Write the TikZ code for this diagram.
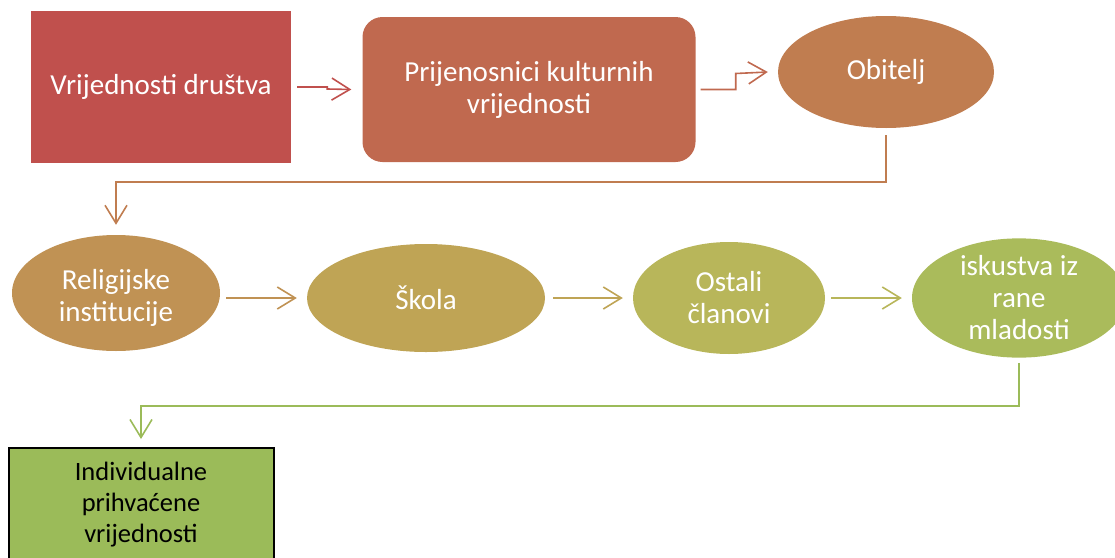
\documentclass[tikz,border=0pt]{standalone}
\usepackage{fontspec}
\setmainfont{Carlito}
\usetikzlibrary{arrows.meta,shapes.geometric,calc}
\definecolor{cA}{HTML}{C0504D}
\definecolor{cB}{HTML}{C0694F}
\definecolor{cC}{HTML}{C07D50}
\definecolor{cD}{HTML}{C09254}
\definecolor{cE}{HTML}{BFA455}
\definecolor{cF}{HTML}{B8B65A}
\definecolor{cG}{HTML}{AABB5B}
\definecolor{cH}{HTML}{9BBB59}
\tikzset{
  lbl/.style={text=white,font=\fontsize{29}{32}\selectfont,align=center,inner sep=0pt},
  ell/.style={ellipse,lbl},
  conn/.style={line width=1.6pt,-{Straight Barb[length=18pt,width=22pt,line width=1.6pt]}}
}
\begin{document}
\begin{tikzpicture}[x=1pt,y=-1pt]
\useasboundingbox (0,0) rectangle (1115,557);
\clip (0,0) rectangle (1115,557);
\node[lbl,fill=cA,minimum width=260pt,minimum height=152pt] (b1) at (161,87) {Vrijednosti društva};
\node[lbl,fill=cB,rounded corners=20pt,minimum width=333pt,minimum height=145pt] (b2) at (529,89.5) {Prijenosnici kulturnih\\vrijednosti};
\node[ell,fill=cC,minimum width=216pt,minimum height=112pt] (ob) at (886,72) {Obitelj};
\node[ellipse,fill=cD,minimum width=208pt,minimum height=116pt,inner sep=0pt] (rel) at (116,293) {};
\node[lbl] (relt) at (116,298) {Religijske\\institucije};
\node[ell,fill=cE,minimum width=238pt,minimum height=108pt] (sk) at (426,298) {Škola};
\node[ell,fill=cF,minimum width=192pt,minimum height=112pt] (os) at (729,298) {Ostali\\članovi};
\node[ell,fill=cG,minimum width=214pt,minimum height=110pt] (is) at (1019,298) {iskustva iz\\rane\\mladosti};
\node[draw=black,line width=2pt,fill=cH,minimum width=265pt,minimum height=140pt,anchor=north,inner sep=0pt] (fin) at (141,447) {};
\node[lbl,text=black,anchor=north,font=\fontsize{26.5}{31}\selectfont] (fint) at (141,462) {Individualne\\prihvaćene\\vrijednosti};
% connectors
\draw[conn,draw=cA] ([xshift=6pt]b1.east) -- ++(30,0) -- ++(0,2) -- ([xshift=-11pt]b2.west);
\draw[conn,draw=cB] ([xshift=5pt]b2.east) -- ++(35,0) -- ++(0,-16) -- ([xshift=-10pt]ob.west);
\draw[conn,draw=cC] ([yshift=-7pt]ob.south) -- ++(0,47) -| ([yshift=10pt]rel.north);
\draw[conn,draw=cD] ($(rel.east|-sk.west)+(6,0)$) -- ([xshift=-10pt]sk.west);
\draw[conn,draw=cE] ([xshift=8pt]sk.east) -- ([xshift=-10pt]os.west);
\draw[conn,draw=cF] ([xshift=6pt]os.east) -- ([xshift=-10pt]is.west);
\draw[conn,draw=cH] ([yshift=-5pt]is.south) -- ++(0,43) -| ([yshift=8pt]fin.north);
\end{tikzpicture}
\end{document}
